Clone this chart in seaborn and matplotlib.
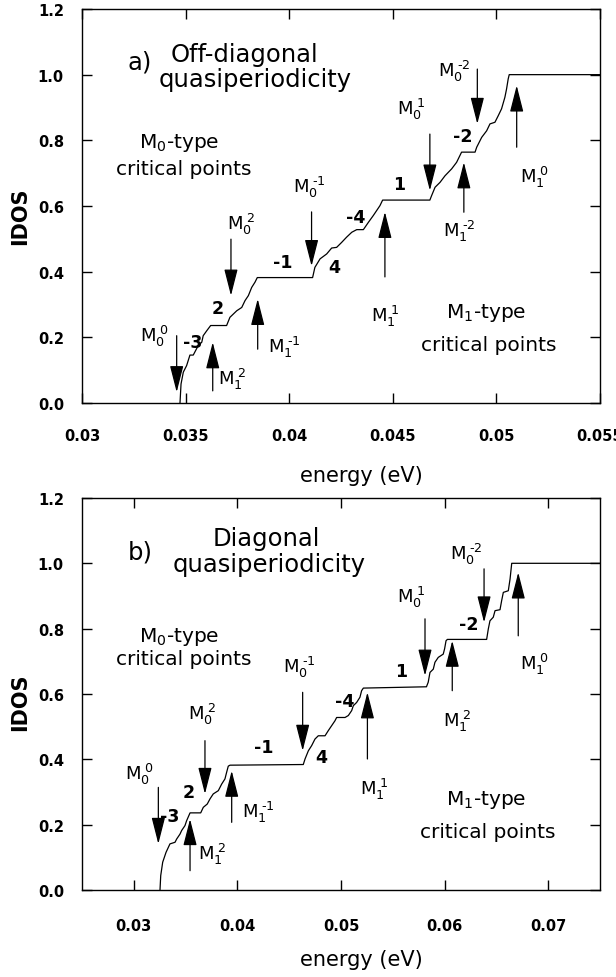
import numpy as np
import pandas as pd
import matplotlib
matplotlib.use("Agg")
import matplotlib.pyplot as plt
import seaborn as sns

# ---------------- data ----------------
top_energy = [0.03473, 0.03478, 0.03489, 0.03505, 0.03521, 0.03537, 0.03561, 0.03578, 0.03585, 0.03602,
              0.03621, 0.03698, 0.03714, 0.03747, 0.03771, 0.03787, 0.03803, 0.03819, 0.03835, 0.03846,
              0.04113, 0.04124, 0.04149, 0.04181, 0.04205, 0.04229, 0.04253, 0.04277, 0.04302, 0.04326,
              0.04358, 0.04382, 0.04406, 0.04422, 0.04438, 0.04451, 0.04679, 0.04687, 0.04704, 0.04728,
              0.04752, 0.04784, 0.04808, 0.04832, 0.04897, 0.04905, 0.04929, 0.04953, 0.04969, 0.04993,
              0.05009, 0.05025, 0.05041, 0.05049, 0.05057, 0.05062, 0.055]
top_idos = [0.0, 0.058, 0.094, 0.114, 0.146, 0.146, 0.175, 0.185, 0.205, 0.220,
            0.236, 0.236, 0.261, 0.281, 0.291, 0.312, 0.327, 0.352, 0.368, 0.382,
            0.382, 0.413, 0.439, 0.454, 0.472, 0.474, 0.489, 0.505, 0.520, 0.528,
            0.528, 0.550, 0.571, 0.586, 0.601, 0.618, 0.618, 0.631, 0.657, 0.672,
            0.692, 0.713, 0.733, 0.764, 0.764, 0.779, 0.809, 0.829, 0.850, 0.855,
            0.875, 0.896, 0.931, 0.956, 0.987, 1.0, 1.0]

bottom_energy = [0.03253, 0.03260, 0.03279, 0.03311, 0.03349, 0.03398, 0.03414, 0.03446, 0.03462, 0.03494,
                 0.03510, 0.03543, 0.03646, 0.03671, 0.03709, 0.03736, 0.03767, 0.03816, 0.03848, 0.03880,
                 0.03896, 0.03912, 0.03929, 0.04636, 0.04653, 0.04685, 0.04717, 0.04749, 0.04781, 0.04846,
                 0.04878, 0.04942, 0.04958, 0.05039, 0.05071, 0.05103, 0.05119, 0.05151, 0.05183, 0.05199,
                 0.05216, 0.05825, 0.05842, 0.05859, 0.05891, 0.05907, 0.05939, 0.05987, 0.06000, 0.06014,
                 0.06027, 0.06406, 0.06422, 0.06438, 0.06470, 0.06487, 0.06535, 0.06551, 0.06567, 0.06615,
                 0.06632, 0.06648, 0.075]
bottom_idos = [0.0, 0.044, 0.085, 0.115, 0.141, 0.146, 0.156, 0.171, 0.182, 0.197,
               0.212, 0.236, 0.236, 0.253, 0.263, 0.279, 0.294, 0.304, 0.324, 0.340,
               0.360, 0.379, 0.382, 0.384, 0.401, 0.426, 0.442, 0.462, 0.472, 0.472,
               0.488, 0.518, 0.528, 0.528, 0.534, 0.549, 0.564, 0.574, 0.590, 0.610,
               0.618, 0.622, 0.636, 0.666, 0.676, 0.697, 0.712, 0.722, 0.738, 0.763,
               0.767, 0.767, 0.799, 0.824, 0.835, 0.855, 0.858, 0.886, 0.911, 0.916,
               0.952, 1.0, 1.0]

# critical-point arrows: energy, tail IDOS, tip IDOS
top_arrow_e = [0.03457, 0.03631, 0.03719, 0.03848, 0.04108, 0.04462, 0.04679, 0.04843, 0.04908, 0.05098]
top_arrow_from = [0.205, 0.037, 0.499, 0.164, 0.582, 0.384, 0.819, 0.581, 1.017, 0.779]
top_arrow_to = [0.033, 0.185, 0.327, 0.317, 0.417, 0.582, 0.647, 0.733, 0.850, 0.967]

bot_arrow_e = [0.03237, 0.03543, 0.03687, 0.03945, 0.04630, 0.05255, 0.05811, 0.06074, 0.06381, 0.06711]
bot_arrow_from = [0.314, 0.059, 0.457, 0.207, 0.605, 0.401, 0.830, 0.610, 0.983, 0.778]
bot_arrow_to = [0.141, 0.217, 0.294, 0.365, 0.426, 0.605, 0.656, 0.763, 0.819, 0.972]

# critical-point labels (subscript, superscript) and their anchor (energy, IDOS)
top_cp_sub = ["0", "1", "0", "1", "0", "1", "0", "1", "0", "1"]
top_cp_sup = ["0", "2", "2", "-1", "-1", "1", "1", "-2", "-2", "0"]
top_cp_e = [0.03280, 0.03658, 0.03698, 0.03899, 0.04017, 0.04396, 0.04518, 0.04744, 0.04718, 0.05114]
top_cp_y = [0.190, 0.058, 0.530, 0.154, 0.642, 0.251, 0.880, 0.510, 0.997, 0.672]

bot_cp_sub = ["0", "1", "0", "1", "0", "1", "0", "1", "0", "1"]
bot_cp_sup = ["0", "2", "2", "-1", "-1", "1", "1", "2", "-2", "0"]
bot_cp_e = [0.02915, 0.03623, 0.03526, 0.04041, 0.04440, 0.05179, 0.05537, 0.05988, 0.06052, 0.06728]
bot_cp_y = [0.340, 0.095, 0.523, 0.223, 0.666, 0.294, 0.881, 0.503, 1.013, 0.676]

# gap labels
gap_labels = ["-3", "2", "-1", "4", "-4", "1", "-2"]
top_gap_e = [0.03533, 0.03654, 0.03968, 0.04216, 0.04320, 0.04529, 0.04840]
top_gap_y = [0.186, 0.289, 0.429, 0.414, 0.566, 0.667, 0.814]
bot_gap_e = [0.03349, 0.03526, 0.04250, 0.04814, 0.05039, 0.05585, 0.06229]
bot_gap_y = [0.227, 0.299, 0.437, 0.406, 0.579, 0.671, 0.814]

top_xticks = [0.03, 0.035, 0.04, 0.045, 0.05, 0.055]
top_xticklabels = ["0.03", "0.035", "0.04", "0.045", "0.05", "0.055"]
bot_xticks = [0.03, 0.04, 0.05, 0.06, 0.07]
bot_xticklabels = ["0.03", "0.04", "0.05", "0.06", "0.07"]
yticks = [0.0, 0.2, 0.4, 0.6, 0.8, 1.0, 1.2]
yticklabels = ["0.0", "0.2", "0.4", "0.6", "0.8", "1.0", "1.2"]

# ---------------- style ----------------
sns.set_theme(style="ticks")
plt.rcParams["font.family"] = ["DejaVu Sans"]
plt.rcParams["mathtext.fontset"] = "dejavusans"
plt.rcParams["axes.linewidth"] = 1.0
for key in ["text.color", "axes.labelcolor", "xtick.color", "ytick.color",
            "xtick.labelcolor", "ytick.labelcolor", "axes.edgecolor"]:
    plt.rcParams[key] = "black"

fig = plt.figure(figsize=(6.16, 9.78), dpi=100)
ax_top = fig.add_axes([0.1331, 0.5869, 0.8409, 0.4029])
ax_bot = fig.add_axes([0.1331, 0.0890, 0.8409, 0.4008])

arrow_kw = dict(arrowstyle="-|>,head_length=1.65,head_width=0.42", color="black",
                lw=0.9, shrinkA=0, shrinkB=0, mutation_scale=10)


def cp_label(sub, sup):
    sup = sup.replace("-", "\u2010")
    return r"M$_{%s}^{\;%s}$" % (sub, sup)


def draw_panel(ax, energy, idos, xlim, xticks, xticklabels, arr_e, arr_from, arr_to,
               cp_sub, cp_sup, cp_e, cp_y, gap_e, gap_y, xpad, ylabel_y, xlabel_y):
    df = pd.DataFrame({"energy": energy, "IDOS": idos})
    sns.lineplot(data=df, x="energy", y="IDOS", ax=ax, sort=False, estimator=None,
                 color="black", lw=0.9)
    ax.set_xlim(*xlim)
    ax.set_ylim(0, 1.2)
    ax.set_xticks(xticks)
    ax.set_xticklabels(xticklabels, fontsize=10.5, fontweight="bold")
    ax.set_yticks(yticks)
    ax.set_yticklabels(yticklabels, fontsize=10.5, fontweight="bold")
    ax.tick_params(axis="both", direction="in", length=7, width=1.0, top=True, right=True,
                   colors="black")
    ax.tick_params(axis="x", pad=xpad)
    ax.tick_params(axis="y", pad=13)
    for s in ax.spines.values():
        s.set_visible(True)
        s.set_color("black")
    ax.set_xlabel("energy (eV)", fontsize=15, va="center")
    ax.set_ylabel("IDOS", fontsize=15, fontweight="bold", va="center")
    ax.xaxis.set_label_coords(0.54, xlabel_y)
    ax.yaxis.set_label_coords(-0.12, ylabel_y)

    for e, y0, y1 in zip(arr_e, arr_from, arr_to):
        ax.annotate("", xy=(e, y1), xytext=(e, y0), arrowprops=arrow_kw)
    for sb, sp, e, y in zip(cp_sub, cp_sup, cp_e, cp_y):
        ax.text(e, y, cp_label(sb, sp), fontsize=13, ha="left", va="baseline")
    for lab, e, y in zip(gap_labels, gap_e, gap_y):
        ax.text(e, y, lab, fontsize=12.5, fontweight="bold", ha="center", va="center")


draw_panel(ax_top, top_energy, top_idos, (0.03, 0.055), top_xticks, top_xticklabels,
           top_arrow_e, top_arrow_from, top_arrow_to,
           top_cp_sub, top_cp_sup, top_cp_e, top_cp_y, top_gap_e, top_gap_y,
           xpad=18, ylabel_y=0.477, xlabel_y=-0.183)
draw_panel(ax_bot, bottom_energy, bottom_idos, (0.025, 0.075), bot_xticks, bot_xticklabels,
           bot_arrow_e, bot_arrow_from, bot_arrow_to,
           bot_cp_sub, bot_cp_sup, bot_cp_e, bot_cp_y, bot_gap_e, bot_gap_y,
           xpad=20, ylabel_y=0.482, xlabel_y=-0.176)

# panel titles and region descriptions
ax_top.text(0.03222, 1.040, "a)", fontsize=17.5, ha="left", va="center")
ax_top.text(0.03784, 1.063, "Off-diagonal", fontsize=17.5, ha="center", va="center")
ax_top.text(0.03837, 0.987, "quasiperiodicity", fontsize=17.5, ha="center", va="center")
ax_top.text(0.03277, 0.779, r"M$_0$-type", fontsize=14.5, ha="left", va="baseline")
ax_top.text(0.03491, 0.713, "critical points", fontsize=14.5, ha="center", va="center")
ax_top.text(0.04757, 0.261, r"M$_1$-type", fontsize=14.5, ha="left", va="baseline")
ax_top.text(0.04964, 0.177, "critical points", fontsize=14.5, ha="center", va="center")

ax_bot.text(0.02944, 1.036, "b)", fontsize=17.5, ha="left", va="center")
ax_bot.text(0.04276, 1.076, "Diagonal", fontsize=17.5, ha="center", va="center")
ax_bot.text(0.04305, 0.998, "quasiperiodicity", fontsize=17.5, ha="center", va="center")
ax_bot.text(0.03055, 0.763, r"M$_0$-type", fontsize=14.5, ha="left", va="baseline")
ax_bot.text(0.03480, 0.710, "critical points", fontsize=14.5, ha="center", va="center")
ax_bot.text(0.06014, 0.263, r"M$_1$-type", fontsize=14.5, ha="left", va="baseline")
ax_bot.text(0.06419, 0.179, "critical points", fontsize=14.5, ha="center", va="center")

fig.savefig("out.png", dpi=100, facecolor="white")
